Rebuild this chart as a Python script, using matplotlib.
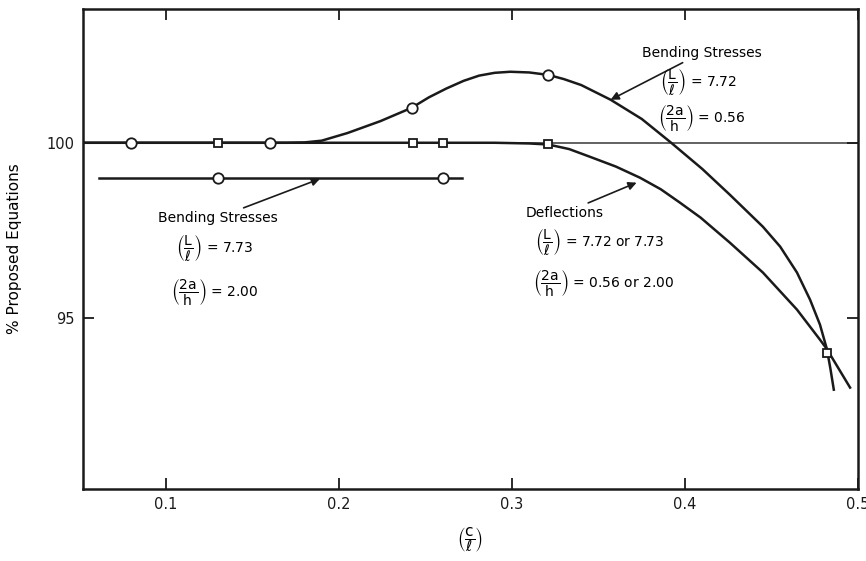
import matplotlib.pyplot as plt

plt.rcParams['mathtext.fontset'] = 'dejavusans'

# --- values ---
# bending stresses, L/l = 7.72, 2a/h = 0.56
bend_x = [0.052, 0.17, 0.18, 0.19, 0.205, 0.224, 0.242, 0.252, 0.262, 0.272,
          0.281, 0.29, 0.299, 0.31, 0.321, 0.33, 0.34, 0.357, 0.375, 0.392,
          0.41, 0.426, 0.445, 0.455, 0.4647, 0.4723, 0.478, 0.482, 0.484, 0.486]
bend_y = [100.0, 100.0, 100.01, 100.06, 100.28, 100.62, 101.0, 101.3, 101.55, 101.77,
          101.92, 102.0, 102.03, 102.01, 101.94, 101.82, 101.65, 101.23, 100.68, 100.0,
          99.25, 98.51, 97.6, 97.03, 96.29, 95.51, 94.8, 94.1, 93.55, 92.94]

# deflections, L/l = 7.72 or 7.73, 2a/h = 0.56 or 2.00
defl_x = [0.052, 0.29, 0.30, 0.31, 0.321, 0.333, 0.345, 0.36, 0.374, 0.386,
          0.397, 0.409, 0.426, 0.445, 0.4647, 0.478, 0.482, 0.4954]
defl_y = [100.0, 100.0, 99.99, 99.98, 99.95, 99.82, 99.6, 99.32, 99.0, 98.67,
          98.29, 97.86, 97.14, 96.29, 95.23, 94.37, 94.1, 93.0]

# bending stresses, L/l = 7.73, 2a/h = 2.00
low_x = [0.061, 0.271]
low_y = [99.0, 99.0]

# measured points
circ_x = [0.08, 0.16, 0.242, 0.321, 0.13, 0.26]
circ_y = [100.0, 100.0, 101.0, 101.94, 99.0, 99.0]
sq_x = [0.13, 0.243, 0.26, 0.321, 0.482]
sq_y = [100.0, 100.0, 100.0, 99.97, 94.0]

x_ticks = [0.1, 0.2, 0.3, 0.4, 0.5]
x_labels = ["0.1", "0.2", "0.3", "0.4", "0.5"]
y_ticks = [95, 100]

fig = plt.figure(figsize=(8.66, 5.61), dpi=100)
ax = fig.add_axes([0.0958, 0.1283, 0.895, 0.856])

ax.axhline(100, color='#555555', lw=1.3, zorder=1)
ax.plot(bend_x, bend_y, color='#1a1a1a', lw=1.8, zorder=2)
ax.plot(defl_x, defl_y, color='#1a1a1a', lw=1.8, zorder=2)
ax.plot(low_x, low_y, color='#1a1a1a', lw=1.8, zorder=2)

ax.plot(circ_x, circ_y, 'o', ms=7.5, mfc='white', mec='#1a1a1a', mew=1.3, zorder=3)
ax.plot(sq_x, sq_y, 's', ms=6, mfc='white', mec='#1a1a1a', mew=1.3, zorder=3)

ax.set_xlim(0.052, 0.5)
ax.set_ylim(90.1, 103.83)
ax.set_xticks(x_ticks)
ax.set_xticklabels(x_labels)
ax.set_yticks(y_ticks)
ax.tick_params(direction='in', length=8, width=1.3, top=True, right=True,
               labelsize=10.5, colors='#1a1a1a', pad=6)
for s in ax.spines.values():
    s.set_linewidth(1.8)
    s.set_color('#1a1a1a')

ax.set_ylabel("% Proposed Equations", fontsize=11, labelpad=18)
ax.set_xlabel(r"$\left(\dfrac{\mathrm{c}}{\ell}\right)$", fontsize=11, labelpad=9)

arrow = dict(arrowstyle='-|>', color='#1a1a1a', lw=1.2, mutation_scale=12,
             shrinkA=0, shrinkB=0)
fs = 10

# upper right label
ax.annotate("Bending Stresses", xy=(0.357, 101.23), xytext=(0.375, 102.57),
            fontsize=fs, va='center', ha='left', arrowprops=arrow)
ax.text(0.3855, 101.74, r"$\left(\dfrac{\mathrm{L}}{\ell}\right)$ = 7.72",
        fontsize=fs, va='center')
ax.text(0.3844, 100.71, r"$\left(\dfrac{\mathrm{2a}}{\mathrm{h}}\right)$ = 0.56",
        fontsize=fs, va='center')

# left label
ax.annotate("Bending Stresses", xy=(0.189, 98.97), xytext=(0.0954, 97.86),
            fontsize=fs, va='center', ha='left', arrowprops=arrow)
ax.text(0.106, 97.0, r"$\left(\dfrac{\mathrm{L}}{\ell}\right)$ = 7.73",
        fontsize=fs, va='center')
ax.text(0.103, 95.74, r"$\left(\dfrac{\mathrm{2a}}{\mathrm{h}}\right)$ = 2.00",
        fontsize=fs, va='center')

# deflections label
ax.annotate("Deflections", xy=(0.372, 98.86), xytext=(0.308, 98.0),
            fontsize=fs, va='center', ha='left', arrowprops=arrow)
ax.text(0.3133, 97.17, r"$\left(\dfrac{\mathrm{L}}{\ell}\right)$ = 7.72 or 7.73",
        fontsize=fs, va='center')
ax.text(0.3121, 96.0, r"$\left(\dfrac{\mathrm{2a}}{\mathrm{h}}\right)$ = 0.56 or 2.00",
        fontsize=fs, va='center')

plt.savefig("out.png", dpi=100)
